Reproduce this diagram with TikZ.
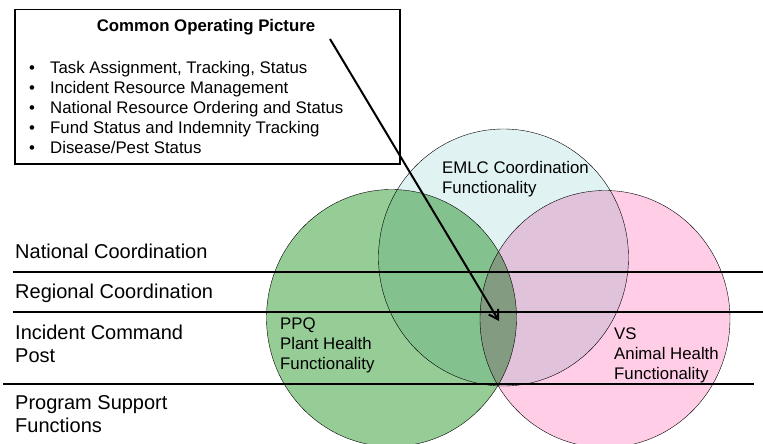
\documentclass[tikz,border=0pt]{standalone}
\usepackage{fontspec}
\setmainfont{Liberation Sans}
\usepackage{tikz}
\usetikzlibrary{positioning,arrows.meta,shapes.geometric}

\definecolor{ppqgreen}{RGB}{150,205,150}
\definecolor{emlccyan}{RGB}{224,242,242}
\definecolor{vspink}{RGB}{255,205,230}

\begin{document}
\begin{tikzpicture}[x=1pt,y=-1pt,
		venn/.style={ellipse,draw,thin,minimum width=250pt,minimum height=257pt,inner sep=0pt},
		tier/.style={anchor=base west,align=left,inner sep=0pt,font=\fontsize{20}{23}\selectfont},
		caption/.style={anchor=base west,align=left,inner sep=0pt,font=\fontsize{16.8}{20}\selectfont},
		divider/.style={line width=1.2pt},
		pointer/.style={-{Straight Barb[length=9pt,width=11pt]},line width=2pt}
		]
		\useasboundingbox (0,0) rectangle (763,444);
		
		% the three circles
		\begin{scope}[blend mode=multiply]
			\node[venn, fill=ppqgreen] (ppq) at (391.5,318) {};
			\node[venn, fill=emlccyan] (emlc) at (503.5,257.5) {};
			\node[venn, fill=vspink] (vs) at (605,319) {};
		\end{scope}
		
		% levels
		\coordinate (national-w) at (13,272);
		\coordinate (national-e) at (763,272);
		\coordinate (regional-w) at (13,312);
		\coordinate (regional-e) at (763,312);
		\coordinate (post-w) at (3,384);
		\coordinate (post-e) at (754,384);
		\draw[divider] (national-w) -- (national-e);
		\draw[divider] (regional-w) -- (regional-e);
		\draw[divider] (post-w) -- (post-e);
		
		% (base = last line)
		\node[tier] (national) at (15,258) {National Coordination};
		\node[tier] (regional) at (15,298) {Regional Coordination};
		\node[tier] (icp) at (15,362) {Incident Command\\Post};
		\node[tier] (support) at (15,432) {Program Support\\Functions};
		
		\node[caption] (emlctext) at (442,193) {EMLC Coordination\\Functionality};
		\node[caption] (ppqtext) at (280,369) {PPQ\\Plant Health\\Functionality};
		\node[caption] (vstext) at (614,379) {VS\\Animal Health\\Functionality};
		
		% common operating picture
		\node[draw, line width=1.5pt, fill=white, minimum width=385pt, minimum height=154pt,
			anchor=north west, inner sep=0pt] (cop) at (14,9) {};
		\node[anchor=base, inner sep=0pt, font=\fontsize{16.8}{20}\selectfont\bfseries] (coptitle) at (206,32) {Common Operating Picture};
		\node[caption] (coplist) at (29,153) {%
			\makebox[21pt][l]{•}Task Assignment, Tracking, Status\\
			\makebox[21pt][l]{•}Incident Resource Management\\
			\makebox[21pt][l]{•}National Resource Ordering and Status\\
			\makebox[21pt][l]{•}Fund Status and Indemnity Tracking\\
			\makebox[21pt][l]{•}Disease/Pest Status};
		
		\coordinate (cop-tail) at (330,39);
		\coordinate (core) at (499,321);
		\draw[pointer] (cop-tail) -- (core);
	\end{tikzpicture}
\end{document}
